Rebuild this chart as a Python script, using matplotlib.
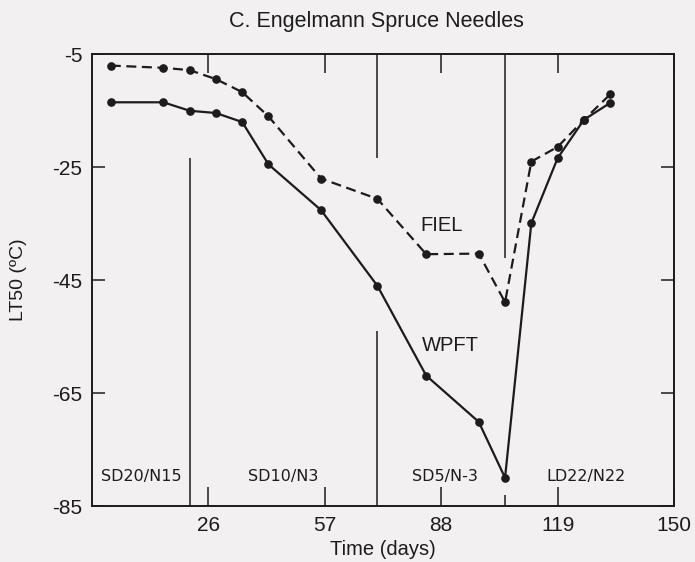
import matplotlib
matplotlib.use("Agg")
import matplotlib.pyplot as plt

# data
days = [0, 14, 21, 28, 35, 42, 56, 71, 84, 98, 105, 112, 119, 126, 133]
wpft = [-13.5, -13.5, -15.0, -15.4, -17.0, -24.5, -32.6, -46.0, -61.9, -70.1, -80.0, -34.9, -23.4, -16.6, -13.6]
fiel = [-7.0, -7.4, -7.8, -9.4, -11.7, -16.0, -27.0, -30.6, -40.4, -40.3, -48.9, -24.0, -21.4, -16.6, -12.1]

# photoperiod / night temperature regimes
regimes = ["SD20/N15", "SD10/N3", "SD5/N-3", "LD22/N22"]
regime_mid = [8, 46, 89, 126.5]
# divider segments (x, y from, y to)
div_x = [21, 71, 71, 105, 105]
div_y0 = [-85, -5, -85, -5, -85]
div_y1 = [-23.4, -23.3, -54, -41, -83]

xticks = [26, 57, 88, 119, 150]
yticks = [-5, -25, -45, -65, -85]

bg = "#f2f0f1"
ink = "#1c1c1c"
plt.rcParams["font.family"] = ["Liberation Sans", "DejaVu Sans"]

fig = plt.figure(figsize=(6.95, 5.62), dpi=100, facecolor=bg)
ax = fig.add_axes([0.1324, 0.0996, 0.8374, 0.8038], facecolor=bg)

ax.plot(days, wpft, color=ink, lw=1.6, marker="o", ms=5.2)
ax.plot(days, fiel, color=ink, lw=1.6, marker="o", ms=5.2, ls=(0, (4.5, 2.5)))

ax.vlines(div_x, div_y0, div_y1, color=ink, lw=1.1)

for name, xm in zip(regimes, regime_mid):
    ax.text(xm, -79.7, name, ha="center", va="center", fontsize=11.5,
            family="DejaVu Sans", color=ink)

ax.text(88.1, -35.4, "FIEL", ha="center", va="center", fontsize=14.5, color=ink)
ax.text(90.5, -56.5, "WPFT", ha="center", va="center", fontsize=14.5, color=ink)

ax.set_xlim(-5, 150)
ax.set_ylim(-85, -5)
ax.set_xticks(xticks)
ax.set_xticklabels([str(t) for t in xticks])
ax.set_yticks(yticks)
ax.set_yticklabels([str(t) for t in yticks])
ax.tick_params(axis="x", direction="in", length=13.5, width=1.1, top=True,
               labelsize=15, pad=7, colors=ink)
ax.tick_params(axis="y", direction="in", length=9.5, width=1.1, right=True,
               labelsize=15, pad=7, colors=ink)
for s in ax.spines.values():
    s.set_linewidth(1.4)
    s.set_color(ink)

ax.set_xlabel("Time (days)", fontsize=14.5, color=ink, labelpad=4)
ax.set_ylabel("LT50 (ºC)", fontsize=14, color=ink, labelpad=18)
fig.text(0.541, 0.962, "C. Engelmann Spruce Needles", ha="center", va="center",
         fontsize=15.5, color=ink)

fig.savefig("out.png", dpi=100, facecolor=bg)
